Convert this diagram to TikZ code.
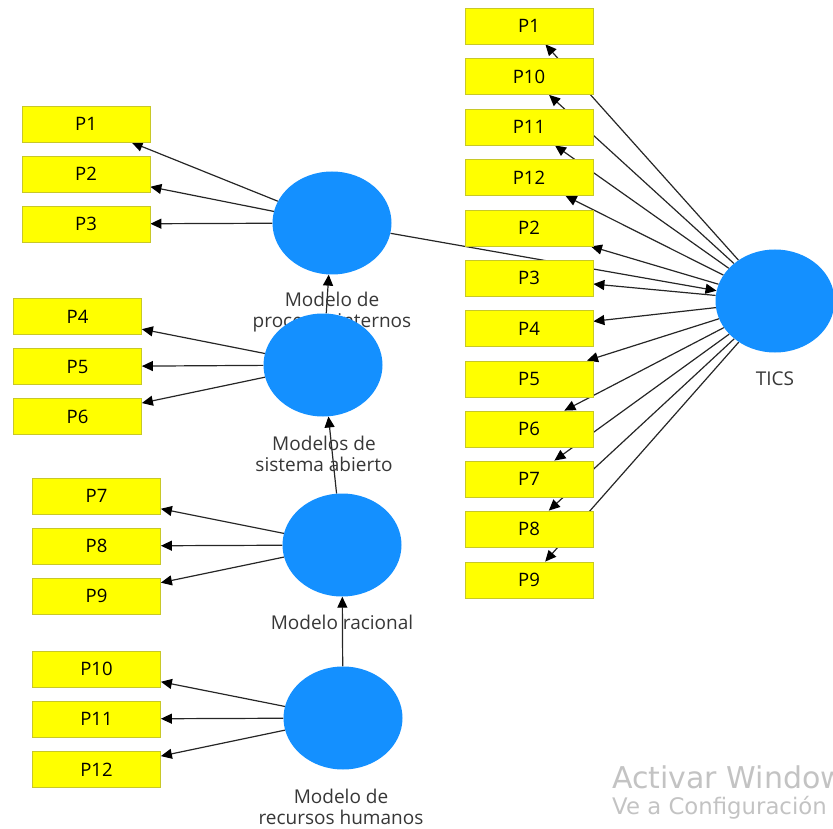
\documentclass[tikz,border=0pt]{standalone}
\usepackage{fontspec}
\setmainfont{Open Sans}
\newfontfamily\wmfont{DejaVu Sans}
\usetikzlibrary{shapes.geometric,arrows.meta,backgrounds}
\definecolor{boxy}{RGB}{255,255,0}
\definecolor{boxb}{RGB}{200,200,40}
\definecolor{circ}{RGB}{20,144,255}
\definecolor{lbl}{RGB}{55,55,55}
\definecolor{wmark}{RGB}{195,195,195}
\begin{document}
\begin{tikzpicture}[x=1pt,y=-1pt,
  pbox/.style={rectangle,draw=boxb,fill=boxy,line width=0.8pt,minimum width=128pt,minimum height=36pt,inner sep=0pt,font=\fontsize{18.5}{20}\selectfont,text=black},
  lv/.style={ellipse,fill=circ,minimum width=119pt,minimum height=103pt,inner sep=0pt},
  lab/.style={align=center,font=\fontsize{19}{21.5}\selectfont,text=lbl,inner sep=0pt},
  con/.style={draw=black!85,line width=1.2pt,-{Triangle[length=11pt,width=10pt,color=black]}},
  wm/.style={anchor=base west,inner sep=0pt,text=wmark}]
\useasboundingbox (0,0) rectangle (833,829);
\clip (0,0) rectangle (833,829);

% labels (behind circles)
\node[lab] (l1) at (332,312) {Modelo de\\procesos internos};
\node[lab] (l2) at (324,454) {Modelos de\\sistema abierto};
\node[lab] (l3) at (342,622) {Modelo racional};
\node[lab] (l4) at (341,807) {Modelo de\\recursos humanos};
\node[lab] (l5) at (775,379) {TICS};

% latent variables
\node[lv] (pi) at (332,223) {};
\node[lv] (sa) at (323,365) {};
\node[lv] (ra) at (342,545) {};
\node[lv] (rh) at (343,718) {};
\node[lv] (tics) at (775,301) {};

% left indicators
\node[pbox] (a1) at (86,124) {P1};
\node[pbox] (a2) at (86,174) {P2};
\node[pbox] (a3) at (86,224) {P3};
\node[pbox] (a4) at (77.5,316.5) {P4};
\node[pbox] (a5) at (77.5,366.5) {P5};
\node[pbox] (a6) at (77.5,416.5) {P6};
\node[pbox] (a7) at (96.5,496) {P7};
\node[pbox] (a8) at (96.5,546) {P8};
\node[pbox] (a9) at (96.5,596) {P9};
\node[pbox] (a10) at (96.5,669) {P10};
\node[pbox] (a11) at (96.5,719) {P11};
\node[pbox] (a12) at (96.5,769.5) {P12};

% right indicators
\node[pbox] (b1) at (529,26) {P1};
\node[pbox] (b10) at (529,76.5) {P10};
\node[pbox] (b11) at (529,127) {P11};
\node[pbox] (b12) at (529,177.5) {P12};
\node[pbox] (b2) at (529,228) {P2};
\node[pbox] (b3) at (529,278) {P3};
\node[pbox] (b4) at (529,328.5) {P4};
\node[pbox] (b5) at (529,379) {P5};
\node[pbox] (b6) at (529,429) {P6};
\node[pbox] (b7) at (529,479) {P7};
\node[pbox] (b8) at (529,529) {P8};
\node[pbox] (b9) at (529,580) {P9};

\begin{scope}[on background layer]
  \foreach \b in {a1,a2,a3} \draw[con] (pi) -- (\b);
  \foreach \b in {a4,a5,a6} \draw[con] (sa) -- (\b);
  \foreach \b in {a7,a8,a9} \draw[con] (ra) -- (\b);
  \foreach \b in {a10,a11,a12} \draw[con] (rh) -- (\b);
  \foreach \b in {b1,b10,b11,b12,b2,b3,b4,b5,b6,b7,b8,b9} \draw[con] (tics) -- (\b);
  \draw[con] (sa) -- (pi);
  \draw[con] (ra) -- (sa);
  \draw[con] (rh) -- (ra);
  \draw[con] (pi) -- (tics);
\end{scope}

% watermark (cut off at the right edge, as in the screenshot)
\node[wm,font=\wmfont\fontsize{30}{30}\selectfont] (w1) at (612,788) {Activar Windows};
\node[wm,font=\wmfont\fontsize{22.8}{22.8}\selectfont] (w2) at (612,814) {Ve a Configuración};
\end{tikzpicture}
\end{document}
